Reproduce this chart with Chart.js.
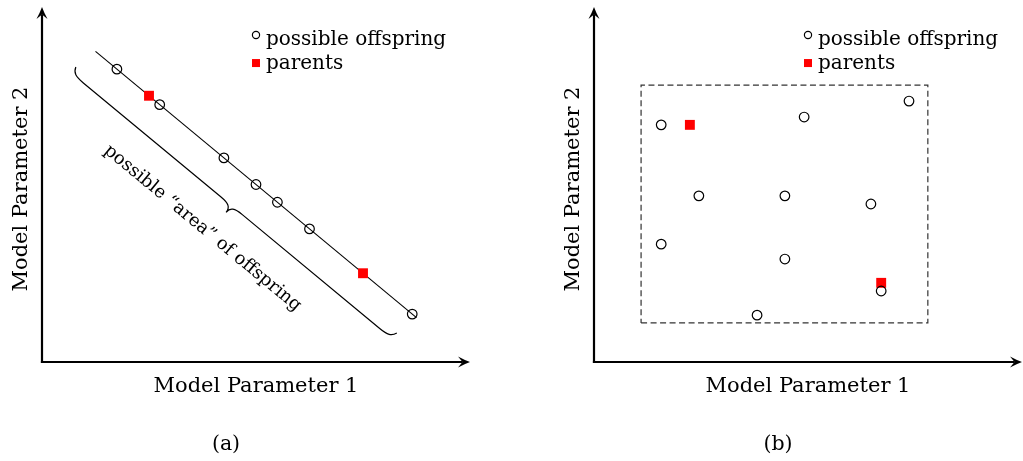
<!DOCTYPE html>
<html>
<head>
<meta charset="utf-8">
<script src="https://cdn.jsdelivr.net/npm/chart.js@4"></script>
<style>
  html, body { margin: 0; padding: 0; background: #fff; overflow: hidden; }
  #wrap { position: relative; width: 1023px; height: 461px; overflow: hidden; }
  canvas { position: absolute; top: 0; }
  #ca { left: 0; }
  #cb { left: 540px; }
</style>
</head>
<body>
<div id="wrap">
  <canvas id="ca" width="540" height="461"></canvas>
  <canvas id="cb" width="483" height="461"></canvas>
</div>
<script>
// ---- Panel (a): offspring restricted to the line through both parents ----
const lineAX = [1.25, 8.75];
const lineAY = [8.75, 1.25];
const offspringAX = [1.75, 2.75, 4.25, 5.0, 5.5, 6.25, 8.65];
const offspringAY = [8.25, 7.25, 5.75, 5.0, 4.5, 3.75, 1.35];
const parentsAX = [2.5, 7.5];
const parentsAY = [7.5, 2.5];
const braceFrom = [0.79, 8.31];
const braceTo = [8.29, 0.82];

// ---- Panel (b): offspring anywhere inside the box spanned by the parents ----
const boxX = [1.1, 7.8, 7.8, 1.1, 1.1];
const boxY = [1.1, 1.1, 7.8, 7.8, 1.1];
const offspringBX = [1.57, 4.91, 7.36, 2.45, 4.46, 6.47, 1.57, 4.46, 6.71, 3.81];
const offspringBY = [6.68, 6.90, 7.35, 4.68, 4.68, 4.45, 3.32, 2.90, 2.00, 1.32];
const parentsBX = [2.24, 6.71];
const parentsBY = [6.68, 2.23];

// ---- Text ----
const seriesLabels = ['possible offspring', 'parents'];
const axisTitles = ['Model Parameter 1', 'Model Parameter 2'];
const braceText = 'possible \u201Carea\u201D of offspring';
const captions = ['(a)', '(b)'];

const FONT = '"DejaVu Serif", "Liberation Serif", serif';
const pts = (xs, ys) => xs.map((x, i) => ({ x: x, y: ys[i] }));

const offspringStyle = {
  pointStyle: 'circle', pointRadius: 4.8, pointHoverRadius: 4.8,
  borderColor: '#000', borderWidth: 1.2, backgroundColor: 'rgba(0,0,0,0)', showLine: false
};
const parentStyle = {
  pointStyle: 'rect', pointRadius: 7, pointHoverRadius: 7,
  backgroundColor: '#ff0000', borderColor: '#ff0000', borderWidth: 0, showLine: false
};

// Arrow with a notched ("stealth") head
function arrow(ctx, x0, y0, x1, y1) {
  const dx = x1 - x0, dy = y1 - y0, len = Math.hypot(dx, dy);
  const ux = dx / len, uy = dy / len, nx = -uy, ny = ux;
  const hl = 12, hw = 5.5, notch = 7.5;
  ctx.save();
  ctx.strokeStyle = '#000'; ctx.fillStyle = '#000';
  ctx.lineWidth = 2.2; ctx.lineCap = 'butt';
  ctx.beginPath();
  ctx.moveTo(x0 - ux * 1.1, y0 - uy * 1.1);
  ctx.lineTo(x1 - ux * notch, y1 - uy * notch);
  ctx.stroke();
  ctx.beginPath();
  ctx.moveTo(x1, y1);
  ctx.quadraticCurveTo(x1 - ux * 6 + nx * 2.2, y1 - uy * 6 + ny * 2.2, x1 - ux * hl + nx * hw, y1 - uy * hl + ny * hw);
  ctx.lineTo(x1 - ux * notch, y1 - uy * notch);
  ctx.lineTo(x1 - ux * hl - nx * hw, y1 - uy * hl - ny * hw);
  ctx.quadraticCurveTo(x1 - ux * 6 - nx * 2.2, y1 - uy * 6 - ny * 2.2, x1, y1);
  ctx.closePath();
  ctx.fill();
  ctx.restore();
}

// Axes, titles, legend, caption and (optionally) the brace annotation
const decor = {
  id: 'decor',
  afterDraw(chart, args, opts) {
    const ctx = chart.ctx, a = chart.chartArea;
    const xs = chart.scales.x, ys = chart.scales.y;
    ctx.save();

    // axes with arrow heads
    arrow(ctx, a.left, a.bottom, a.left, a.top);
    arrow(ctx, a.left, a.bottom, a.right, a.bottom);

    ctx.fillStyle = '#000';
    ctx.textBaseline = 'alphabetic';

    // axis titles
    ctx.font = '21px ' + FONT;
    ctx.textAlign = 'center';
    ctx.fillText(axisTitles[0], (a.left + a.right) / 2, a.bottom + 30);
    ctx.save();
    ctx.translate(a.left - 15, a.top + 182);
    ctx.rotate(-Math.PI / 2);
    ctx.fillText(axisTitles[1], 0, 0);
    ctx.restore();

    // caption
    ctx.font = '20.5px ' + FONT;
    ctx.fillText(opts.caption, a.left + 184, a.bottom + 88);

    // legend
    const lx = xs.getPixelForValue(opts.legendX);
    const ly = ys.getPixelForValue(opts.legendY);
    const ds = chart.data.datasets;
    ctx.font = '20px ' + FONT;
    ctx.textAlign = 'left';
    ctx.beginPath();
    ctx.arc(lx, ly, 3.6, 0, Math.PI * 2);
    ctx.lineWidth = 1.2; ctx.strokeStyle = ds[0].borderColor;
    ctx.stroke();
    ctx.fillText(ds[0].label, lx + 10, ly + 10);
    ctx.fillStyle = ds[1].backgroundColor;
    ctx.fillRect(lx - 4, ly + 28 - 4, 8, 8);
    ctx.fillStyle = '#000';
    ctx.fillText(ds[1].label, lx + 10, ly + 28 + 6);

    // curly brace below the line of possible offspring
    if (opts.brace) {
      const p0x = xs.getPixelForValue(opts.brace.from[0]), p0y = ys.getPixelForValue(opts.brace.from[1]);
      const p1x = xs.getPixelForValue(opts.brace.to[0]), p1y = ys.getPixelForValue(opts.brace.to[1]);
      const L = Math.hypot(p1x - p0x, p1y - p0y);
      const ux = (p1x - p0x) / L, uy = (p1y - p0y) / L;
      const nx = -uy, ny = ux;
      const P = (s, v) => [p0x + ux * s + nx * v, p0y + uy * s + ny * v];
      const amp = 16, arm = 7.5, m = L / 2;
      ctx.beginPath();
      ctx.lineWidth = 1.2; ctx.strokeStyle = '#000';
      ctx.moveTo(...P(0, 0));
      ctx.bezierCurveTo(...P(2, 6), ...P(6, arm), ...P(16, arm));
      ctx.lineTo(...P(m - 14, arm));
      ctx.bezierCurveTo(...P(m - 4, arm), ...P(m, arm + 2), ...P(m, amp));
      ctx.bezierCurveTo(...P(m, arm + 2), ...P(m + 4, arm), ...P(m + 14, arm));
      ctx.lineTo(...P(L - 16, arm));
      ctx.bezierCurveTo(...P(L - 6, arm), ...P(L - 2, 6), ...P(L, 0));
      ctx.stroke();

      const t = P(m - 8, amp + 32);
      ctx.save();
      ctx.translate(t[0], t[1]);
      ctx.rotate(Math.atan2(uy, ux));
      ctx.font = '18px ' + FONT;
      ctx.textAlign = 'center';
      ctx.fillText(opts.brace.text, 0, 0);
      ctx.restore();
    }
    ctx.restore();
  }
};

function makeChart(id, datasets, padding, decorOpts) {
  return new Chart(document.getElementById(id), {
    type: 'scatter',
    data: { datasets: datasets },
    options: {
      responsive: false,
      animation: false,
      devicePixelRatio: 1,
      layout: { padding: padding, autoPadding: false },
      events: [],
      scales: {
        x: { type: 'linear', min: 0, max: 10, display: false },
        y: { type: 'linear', min: 0, max: 10, display: false }
      },
      plugins: {
        legend: { display: false },
        tooltip: { enabled: false },
        decor: decorOpts
      }
    },
    plugins: [decor]
  });
}

makeChart('ca', [
  Object.assign({ label: seriesLabels[0], data: pts(offspringAX, offspringAY) }, offspringStyle),
  Object.assign({ label: seriesLabels[1], data: pts(parentsAX, parentsAY) }, parentStyle),
  { label: 'line', data: pts(lineAX, lineAY), showLine: true, borderColor: '#000', borderWidth: 1.1, pointRadius: 0, fill: false }
], { left: 42, right: 70, top: 7, bottom: 99 }, {
  caption: captions[0], legendX: 5.0, legendY: 9.21,
  brace: { from: braceFrom, to: braceTo, text: braceText }
});

makeChart('cb', [
  Object.assign({ label: seriesLabels[0], data: pts(offspringBX, offspringBY) }, offspringStyle),
  Object.assign({ label: seriesLabels[1], data: pts(parentsBX, parentsBY) }, parentStyle),
  { label: 'box', data: pts(boxX, boxY), showLine: true, borderColor: '#333', borderWidth: 1.2, borderDash: [6, 3.5], pointRadius: 0, fill: false }
], { left: 54, right: 1, top: 7, bottom: 99 }, {
  caption: captions[1], legendX: 5.0, legendY: 9.21
});
</script>
</body>
</html>
